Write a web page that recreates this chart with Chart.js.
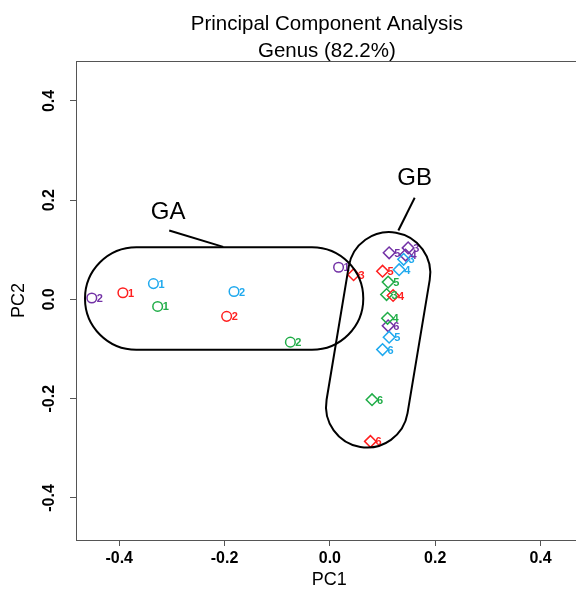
<!DOCTYPE html>
<html>
<head>
<meta charset="utf-8">
<script src="https://cdn.jsdelivr.net/npm/chart.js@4.4.1/dist/chart.umd.min.js"></script>
<style>
  html, body { margin: 0; padding: 0; background: #fff; overflow: hidden; width: 576px; height: 592px; }
  canvas { display: block; }
</style>
</head>
<body>
<!-- the plot box runs past the right edge of the picture, so the canvas is a bit wider than the window -->
<canvas id="pca" width="590" height="592"></canvas>
<script>
// sample numbers inside each colour group: 1-2 sit in GA (circles), 3-6 in GB (diamonds)
const sampleLabels = ['1', '2', '3', '4', '5', '6'];

const redPC1 = [-0.393, -0.196, 0.045, 0.120, 0.100, 0.077];
const redPC2 = [0.0135, -0.034, 0.050, 0.008, 0.057, -0.286];

const bluePC1 = [-0.335, -0.182, 0.140, 0.1315, 0.1125, 0.100];
const bluePC2 = [0.032, 0.016, 0.081, 0.060, -0.076, -0.101];

const greenPC1 = [-0.327, -0.075, 0.1076, 0.1095, 0.1106, 0.080];
const greenPC2 = [-0.014, -0.086, 0.010, -0.038, 0.035, -0.202];

const purplePC1 = [0.0165, -0.452, 0.1486, 0.1437, 0.1125, 0.1106];
const purplePC2 = [0.065, 0.003, 0.104, 0.0895, 0.094, -0.053];

const xTicks = [-0.4, -0.2, 0.0, 0.2, 0.4];
const yTicks = [-0.4, -0.2, 0.0, 0.2, 0.4];

const titleLines = ['Principal Component Analysis', 'Genus (82.2%)'];

// hand-drawn group outlines (stadium shapes) in data units, like annotations
const groupShapes = [
  { name: 'GA', from: [-0.3675, 0.002], to: [-0.034, 0.002], r: 0.1034,
    text: [-0.307, 0.176], leader: [[-0.305, 0.139], [-0.2025, 0.106]] },
  { name: 'GB', from: [0.1127, 0.053], to: [0.0706, -0.2156], r: 0.0827,
    text: [0.161, 0.244], leader: [[0.161, 0.205], [0.130, 0.139]] }
];

const FONT = '"Liberation Sans", Arial, sans-serif';

function makeSet(xs, ys, color) {
  return {
    data: xs.map((v, i) => ({ x: v, y: ys[i] })),
    sampleLabels: sampleLabels,
    borderColor: color,
    backgroundColor: 'rgba(0,0,0,0)',
    borderWidth: 1.5,
    pointStyle: sampleLabels.map(l => (+l <= 2 ? 'circle' : 'rectRot')),
    pointRadius: sampleLabels.map(l => (+l <= 2 ? 4.8 : 5.8)),
    showLine: false
  };
}

const overlay = {
  id: 'overlay',
  afterDatasetsDraw(chart) {
    const { ctx } = chart;
    const xs = chart.scales.x, ys = chart.scales.y;

    // sample number next to each marker
    ctx.save();
    ctx.font = 'bold 11px ' + FONT;
    ctx.textAlign = 'left';
    ctx.textBaseline = 'middle';
    chart.data.datasets.forEach((ds, i) => {
      chart.getDatasetMeta(i).data.forEach((pt, j) => {
        ctx.fillStyle = ds.borderColor;
        ctx.fillText(ds.sampleLabels[j], pt.x + 5, pt.y + 1);
      });
    });

    // group outlines, leaders and names
    ctx.strokeStyle = '#000';
    ctx.lineWidth = 2;
    groupShapes.forEach(g => {
      const ax = xs.getPixelForValue(g.from[0]), ay = ys.getPixelForValue(g.from[1]);
      const bx = xs.getPixelForValue(g.to[0]), by = ys.getPixelForValue(g.to[1]);
      const r = Math.abs(ys.getPixelForValue(0) - ys.getPixelForValue(g.r));
      const t = Math.atan2(by - ay, bx - ax);
      ctx.beginPath();
      ctx.arc(bx, by, r, t - Math.PI / 2, t + Math.PI / 2);
      ctx.arc(ax, ay, r, t + Math.PI / 2, t + 3 * Math.PI / 2);
      ctx.closePath();
      ctx.stroke();

      ctx.beginPath();
      ctx.moveTo(xs.getPixelForValue(g.leader[0][0]), ys.getPixelForValue(g.leader[0][1]));
      ctx.lineTo(xs.getPixelForValue(g.leader[1][0]), ys.getPixelForValue(g.leader[1][1]));
      ctx.stroke();

      ctx.font = '24px ' + FONT;
      ctx.fillStyle = '#000';
      ctx.textAlign = 'center';
      ctx.textBaseline = 'middle';
      ctx.fillText(g.name, xs.getPixelForValue(g.text[0]), ys.getPixelForValue(g.text[1]));
    });
    ctx.restore();
  },
  afterDraw(chart) {
    const { ctx, chartArea } = chart;
    ctx.save();
    // top edge of the plot box (the right edge falls outside the picture)
    ctx.strokeStyle = '#555';
    ctx.lineWidth = 1;
    ctx.beginPath();
    ctx.moveTo(chartArea.left, chartArea.top + 0.5);
    ctx.lineTo(chartArea.right, chartArea.top + 0.5);
    ctx.stroke();

    // two-line main title centred over the plot region
    const cx = chart.scales.x.getPixelForValue(0) - 3;
    ctx.fillStyle = '#000';
    ctx.font = '20.5px ' + FONT;
    ctx.textAlign = 'center';
    ctx.textBaseline = 'alphabetic';
    ctx.fillText(titleLines[0], cx, 30);
    ctx.fillText(titleLines[1], cx, 57);
    ctx.restore();
  }
};

const tickFont = { family: FONT, size: 16, weight: 'bold' };
const axisColor = '#555';

new Chart(document.getElementById('pca'), {
  type: 'scatter',
  data: {
    datasets: [
      makeSet(redPC1, redPC2, '#ff1f1f'),
      makeSet(bluePC1, bluePC2, '#1fa9ee'),
      makeSet(greenPC1, greenPC2, '#20ad48'),
      makeSet(purplePC1, purplePC2, '#7332a6')
    ]
  },
  options: {
    responsive: false,
    animation: false,
    devicePixelRatio: 1,
    layout: { padding: { top: 61, right: 0, bottom: 0, left: 0 } },
    plugins: { legend: { display: false }, tooltip: { enabled: false }, title: { display: false } },
    scales: {
      x: {
        type: 'linear',
        min: -0.482,
        max: 0.48,
        afterBuildTicks: s => { s.ticks = xTicks.map(v => ({ value: v })); },
        afterFit: s => { s.height = 52; },
        grid: { drawOnChartArea: false, drawTicks: true, tickLength: 6, tickColor: axisColor },
        border: { display: true, color: axisColor, width: 1 },
        ticks: { font: tickFont, color: '#000', padding: 3, autoSkip: false, maxRotation: 0,
                 callback: v => v.toFixed(1) },
        title: { display: true, text: 'PC1', color: '#000', font: { family: FONT, size: 18 },
                 padding: { top: 0, bottom: 1 } }
      },
      y: {
        type: 'linear',
        min: -0.4847,
        max: 0.4806,
        afterBuildTicks: s => { s.ticks = yTicks.map(v => ({ value: v })); },
        afterFit: s => { s.width = 76; },
        grid: { drawOnChartArea: false, drawTicks: true, tickLength: 6, tickColor: axisColor },
        border: { display: true, color: axisColor, width: 1 },
        ticks: { font: tickFont, color: '#000', padding: 7, autoSkip: false,
                 minRotation: 90, maxRotation: 90, crossAlign: 'center',
                 callback: v => v.toFixed(1) },
        title: { display: true, text: 'PC2', color: '#000', font: { family: FONT, size: 18 },
                 padding: { top: 8, bottom: 0 } }
      }
    }
  },
  plugins: [overlay]
});
</script>
</body>
</html>
